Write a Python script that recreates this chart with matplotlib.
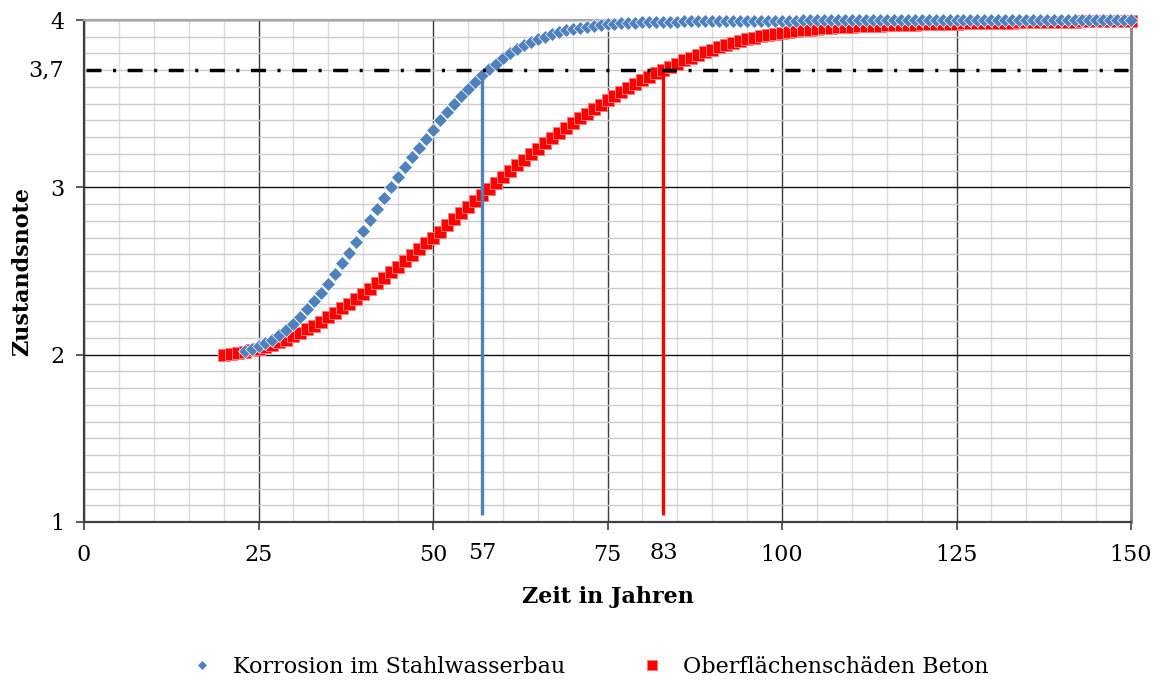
import numpy as np
import matplotlib
matplotlib.use("Agg")
import matplotlib.pyplot as plt
from matplotlib.transforms import blended_transform_factory

plt.rcParams["font.family"] = ["DejaVu Serif"]
plt.rcParams["lines.scale_dashes"] = False

# Condition grade over time (years)
years_steel = np.arange(23, 151)
grade_steel = [
    2.020, 2.035, 2.050, 2.070, 2.090, 2.120, 2.150, 2.185, 2.225, 2.270,
    2.320, 2.370, 2.425, 2.485, 2.550, 2.610, 2.675, 2.740, 2.805, 2.870,
    2.935, 3.000, 3.060, 3.120, 3.180, 3.235, 3.290, 3.345, 3.400, 3.450,
    3.500, 3.545, 3.590, 3.630, 3.670, 3.705, 3.740, 3.770, 3.800, 3.825,
    3.850, 3.870, 3.885, 3.900, 3.915, 3.928, 3.939, 3.948, 3.955, 3.961,
    3.966, 3.970, 3.974, 3.977, 3.980, 3.982, 3.984, 3.986, 3.987, 3.988,
    3.989, 3.990, 3.991, 3.992, 3.992, 3.993, 3.993, 3.994, 3.994, 3.995,
    3.995, 3.995, 3.996, 3.996, 3.996, 3.997, 3.997, 3.997, 3.997, 3.997,
    3.998, 3.998, 3.998, 3.998, 3.998, 3.998, 3.998, 3.998, 3.998, 3.998,
    3.998, 3.998, 3.998, 3.998, 3.998, 3.998, 3.998, 3.998, 3.998, 3.998,
    3.999, 3.999, 3.999, 3.999, 3.999, 3.999, 3.999, 3.999, 3.999, 3.999,
    3.999, 3.999, 3.999, 3.999, 3.999, 3.999, 3.999, 3.999, 3.999, 3.999,
    3.999, 3.999, 3.999, 4.000, 4.000, 4.000, 4.000, 4.000,
]

years_concrete = np.arange(20, 151)
grade_concrete = [
    2.000, 2.005, 2.011, 2.018, 2.026, 2.036, 2.047, 2.059, 2.073, 2.090,
    2.110, 2.130, 2.151, 2.174, 2.198, 2.223, 2.249, 2.276, 2.304, 2.333,
    2.363, 2.394, 2.426, 2.459, 2.492, 2.526, 2.560, 2.595, 2.630, 2.665,
    2.700, 2.736, 2.772, 2.808, 2.844, 2.880, 2.916, 2.952, 2.988, 3.026,
    3.062, 3.097, 3.131, 3.165, 3.198, 3.231, 3.263, 3.294, 3.325, 3.355,
    3.384, 3.413, 3.441, 3.468, 3.495, 3.521, 3.546, 3.571, 3.595, 3.618,
    3.640, 3.661, 3.681, 3.701, 3.721, 3.740, 3.758, 3.775, 3.791, 3.807,
    3.822, 3.836, 3.849, 3.862, 3.874, 3.885, 3.895, 3.904, 3.912, 3.919,
    3.925, 3.930, 3.935, 3.939, 3.943, 3.947, 3.950, 3.953, 3.956, 3.958,
    3.960, 3.962, 3.964, 3.966, 3.967, 3.969, 3.970, 3.971, 3.972, 3.973,
    3.974, 3.975, 3.976, 3.977, 3.978, 3.979, 3.980, 3.981, 3.982, 3.982,
    3.983, 3.984, 3.984, 3.985, 3.986, 3.986, 3.987, 3.987, 3.988, 3.989,
    3.990, 3.991, 3.991, 3.992, 3.993, 3.993, 3.994, 3.995, 3.995, 3.996,
    3.996,
]

label_steel = "Korrosion im Stahlwasserbau"
label_concrete = "Oberflächenschäden Beton"

threshold = 3.7
threshold_label = "3,7"
year_steel_limit = 57
year_concrete_limit = 83

x_ticks = [0, 25, 50, 75, 100, 125, 150]
y_ticks = [1, 2, 3, 4]

BLUE = "#4F81BD"
RED = "#FF0000"

fig = plt.figure(figsize=(11.57, 6.82), dpi=100)
ax = fig.add_axes([84 / 1157, 1 - 522 / 682, 1047 / 1157, 502 / 682])

ax.set_xlim(0, 150)
ax.set_ylim(1, 4)

# grid
ax.set_xticks(x_ticks)
ax.set_yticks(y_ticks)
ax.set_xticks(np.arange(0, 151, 5), minor=True)
ax.set_yticks(np.arange(1, 4.001, 0.1), minor=True)
ax.grid(which="minor", axis="x", color="#dcdcdc", lw=1.0, zorder=0)
ax.grid(which="minor", axis="y", color="#cccccc", lw=1.0, zorder=0)
ax.grid(which="major", axis="x", color="#3a3a3a", lw=1.0, zorder=0.5)
ax.grid(which="major", axis="y", color="#111111", lw=1.0, zorder=0.5)
ax.set_axisbelow(True)

ax.tick_params(which="minor", length=0)
ax.tick_params(which="major", direction="out", length=6, width=1.2,
               color="#404040", labelsize=16)
ax.tick_params(axis="x", pad=10)
ax.tick_params(axis="y", pad=8)
ax.set_yticklabels([str(v) for v in y_ticks])
ax.set_xticklabels([str(v) for v in x_ticks])

for side in ("left", "bottom"):
    ax.spines[side].set_color("#404040")
    ax.spines[side].set_linewidth(1.6)
ax.spines["top"].set_color("#a6a6a6")
ax.spines["top"].set_linewidth(1.6)
ax.spines["right"].set_color("#8c8c8c")
ax.spines["right"].set_linewidth(2.2)

# data series
h_con, = ax.plot(years_concrete, grade_concrete, ls="none", marker="s",
                 ms=8.3, mfc=RED, mec="#ff7878", mew=0.7, zorder=3,
                 clip_on=False, label=label_concrete)
h_st, = ax.plot(years_steel, grade_steel, ls="none", marker="D",
                ms=6.8, mfc=BLUE, mec="#ffffff", mew=0.5, zorder=3.1,
                clip_on=False, label=label_steel)

# limit markers
ax.plot([year_steel_limit, year_steel_limit], [1.04, threshold],
        color=BLUE, lw=2.4, solid_capstyle="butt", zorder=4)
ax.plot([year_concrete_limit, year_concrete_limit], [1.04, threshold],
        color=RED, lw=2.4, solid_capstyle="butt", zorder=4)
ax.plot([0.3, 149.5], [threshold, threshold], color="black", lw=2.5,
        dashes=[10.8, 8.3, 2.2, 8.3], dash_capstyle="butt", zorder=5)

# extra axis labels
tx = blended_transform_factory(ax.transData, ax.transAxes)
for yr in (year_steel_limit, year_concrete_limit):
    ax.text(yr, -0.040, str(yr), transform=tx, ha="center", va="top",
            fontsize=16)
ty = blended_transform_factory(ax.transAxes, ax.transData)
ax.text(-0.0195, threshold, threshold_label, transform=ty, ha="right",
        va="center", fontsize=16)

ax.set_xlabel("Zeit in Jahren", fontsize=16, fontweight="bold")
ax.xaxis.label.set_va("center")
ax.xaxis.set_label_coords(0.5, -0.149)
ax.set_ylabel("Zustandsnote", fontsize=16, fontweight="bold")
ax.yaxis.label.set_va("center")
ax.yaxis.set_label_coords(-0.0592, 0.5)

fig.legend(handles=[h_st, h_con], labels=[label_steel, label_concrete],
           loc="center", bbox_to_anchor=(590 / 1157, 1 - 667 / 682),
           ncol=2, frameon=False, fontsize=16, handlelength=1.0,
           handletextpad=0.9, columnspacing=3.4, markerscale=0.8)

fig.savefig("out.png", dpi=100)
